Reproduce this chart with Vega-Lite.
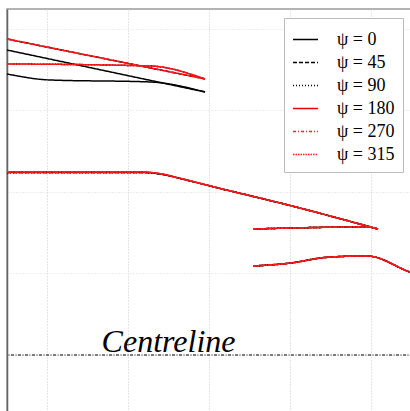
{
  "$schema": "https://vega.github.io/schema/vega-lite/v6.json",
  "autosize": {"type": "none"},
  "padding": {"left": 7, "top": 9, "right": 0, "bottom": 0},
  "width": 420,
  "height": 420,
  "background": "white",
  "config": {
    "view": {"stroke": "#999", "strokeWidth": 1.5},
    "legend": {
      "orient": "none", "legendX": 277, "legendY": 9,
      "fillColor": "white", "strokeColor": "#bbb", "padding": 8,
      "symbolType": "stroke", "symbolSize": 625, "symbolStrokeWidth": 1.5,
      "labelFont": "Liberation Serif", "labelFontSize": 18, "labelColor": "black",
      "labelOffset": 18, "rowPadding": 0
    }
  },
  "datasets": {
    "curves": [
      {"psi": "ψ = 0", "seg": "C", "x": 0.506, "y": 3.742},
      {"psi": "ψ = 0", "seg": "C", "x": 2.951, "y": 3.227},
      {"psi": "ψ = 0", "seg": "D", "x": 0.506, "y": 3.448},
      {"psi": "ψ = 0", "seg": "D", "x": 1.037, "y": 3.374},
      {"psi": "ψ = 0", "seg": "D", "x": 2.272, "y": 3.350},
      {"psi": "ψ = 0", "seg": "D", "x": 2.951, "y": 3.227},
      {"psi": "ψ = 0", "seg": "M", "x": 0.506, "y": 2.239},
      {"psi": "ψ = 0", "seg": "M", "x": 2.185, "y": 2.239},
      {"psi": "ψ = 0", "seg": "M", "x": 2.395, "y": 2.221},
      {"psi": "ψ = 0", "seg": "M", "x": 2.642, "y": 2.166},
      {"psi": "ψ = 0", "seg": "M", "x": 3.012, "y": 2.074},
      {"psi": "ψ = 0", "seg": "M", "x": 4.0, "y": 1.834},
      {"psi": "ψ = 0", "seg": "M", "x": 5.086, "y": 1.546},
      {"psi": "ψ = 0", "seg": "R1", "x": 3.543, "y": 1.546},
      {"psi": "ψ = 0", "seg": "R1", "x": 4.951, "y": 1.571},
      {"psi": "ψ = 0", "seg": "R1", "x": 5.086, "y": 1.546},
      {"psi": "ψ = 0", "seg": "R2", "x": 3.543, "y": 1.092},
      {"psi": "ψ = 0", "seg": "R2", "x": 3.963, "y": 1.123},
      {"psi": "ψ = 0", "seg": "R2", "x": 4.494, "y": 1.202},
      {"psi": "ψ = 0", "seg": "R2", "x": 4.951, "y": 1.215},
      {"psi": "ψ = 0", "seg": "R2", "x": 5.481, "y": 1.018},
      {"psi": "ψ = 0", "seg": "R2", "x": 5.667, "y": 0.957},

      {"psi": "ψ = 45", "seg": "A", "x": 0.506, "y": 3.877},
      {"psi": "ψ = 45", "seg": "A", "x": 2.951, "y": 3.387},
      {"psi": "ψ = 45", "seg": "M", "x": 0.506, "y": 2.239},
      {"psi": "ψ = 45", "seg": "M", "x": 2.185, "y": 2.239},
      {"psi": "ψ = 45", "seg": "M", "x": 2.395, "y": 2.221},
      {"psi": "ψ = 45", "seg": "M", "x": 2.642, "y": 2.166},
      {"psi": "ψ = 45", "seg": "M", "x": 3.012, "y": 2.074},
      {"psi": "ψ = 45", "seg": "M", "x": 4.0, "y": 1.834},
      {"psi": "ψ = 45", "seg": "M", "x": 5.086, "y": 1.546},
      {"psi": "ψ = 45", "seg": "R1", "x": 3.543, "y": 1.546},
      {"psi": "ψ = 45", "seg": "R1", "x": 4.951, "y": 1.571},
      {"psi": "ψ = 45", "seg": "R1", "x": 5.086, "y": 1.546},
      {"psi": "ψ = 45", "seg": "R2", "x": 3.543, "y": 1.092},
      {"psi": "ψ = 45", "seg": "R2", "x": 3.963, "y": 1.123},
      {"psi": "ψ = 45", "seg": "R2", "x": 4.494, "y": 1.202},
      {"psi": "ψ = 45", "seg": "R2", "x": 4.951, "y": 1.215},
      {"psi": "ψ = 45", "seg": "R2", "x": 5.481, "y": 1.018},
      {"psi": "ψ = 45", "seg": "R2", "x": 5.667, "y": 0.957},

      {"psi": "ψ = 90", "seg": "B", "x": 0.506, "y": 3.571},
      {"psi": "ψ = 90", "seg": "B", "x": 2.272, "y": 3.546},
      {"psi": "ψ = 90", "seg": "B", "x": 2.951, "y": 3.387},
      {"psi": "ψ = 90", "seg": "M", "x": 0.506, "y": 2.239},
      {"psi": "ψ = 90", "seg": "M", "x": 2.185, "y": 2.239},
      {"psi": "ψ = 90", "seg": "M", "x": 2.395, "y": 2.221},
      {"psi": "ψ = 90", "seg": "M", "x": 2.642, "y": 2.166},
      {"psi": "ψ = 90", "seg": "M", "x": 3.012, "y": 2.074},
      {"psi": "ψ = 90", "seg": "M", "x": 4.0, "y": 1.834},
      {"psi": "ψ = 90", "seg": "M", "x": 5.086, "y": 1.546},
      {"psi": "ψ = 90", "seg": "R1", "x": 3.543, "y": 1.546},
      {"psi": "ψ = 90", "seg": "R1", "x": 4.951, "y": 1.571},
      {"psi": "ψ = 90", "seg": "R1", "x": 5.086, "y": 1.546},
      {"psi": "ψ = 90", "seg": "R2", "x": 3.543, "y": 1.092},
      {"psi": "ψ = 90", "seg": "R2", "x": 3.963, "y": 1.123},
      {"psi": "ψ = 90", "seg": "R2", "x": 4.494, "y": 1.202},
      {"psi": "ψ = 90", "seg": "R2", "x": 4.951, "y": 1.215},
      {"psi": "ψ = 90", "seg": "R2", "x": 5.481, "y": 1.018},
      {"psi": "ψ = 90", "seg": "R2", "x": 5.667, "y": 0.957},

      {"psi": "ψ = 180", "seg": "A", "x": 0.506, "y": 3.877},
      {"psi": "ψ = 180", "seg": "A", "x": 2.951, "y": 3.387},
      {"psi": "ψ = 180", "seg": "B", "x": 0.506, "y": 3.571},
      {"psi": "ψ = 180", "seg": "B", "x": 2.272, "y": 3.546},
      {"psi": "ψ = 180", "seg": "B", "x": 2.951, "y": 3.387},
      {"psi": "ψ = 180", "seg": "M", "x": 0.506, "y": 2.245},
      {"psi": "ψ = 180", "seg": "M", "x": 2.185, "y": 2.245},
      {"psi": "ψ = 180", "seg": "M", "x": 2.395, "y": 2.225},
      {"psi": "ψ = 180", "seg": "M", "x": 2.642, "y": 2.168},
      {"psi": "ψ = 180", "seg": "M", "x": 3.012, "y": 2.074},
      {"psi": "ψ = 180", "seg": "M", "x": 4.0, "y": 1.834},
      {"psi": "ψ = 180", "seg": "M", "x": 5.086, "y": 1.546},
      {"psi": "ψ = 180", "seg": "R1", "x": 3.543, "y": 1.546},
      {"psi": "ψ = 180", "seg": "R1", "x": 4.951, "y": 1.571},
      {"psi": "ψ = 180", "seg": "R1", "x": 5.086, "y": 1.546},
      {"psi": "ψ = 180", "seg": "R2", "x": 3.543, "y": 1.092},
      {"psi": "ψ = 180", "seg": "R2", "x": 3.963, "y": 1.123},
      {"psi": "ψ = 180", "seg": "R2", "x": 4.494, "y": 1.202},
      {"psi": "ψ = 180", "seg": "R2", "x": 4.951, "y": 1.215},
      {"psi": "ψ = 180", "seg": "R2", "x": 5.481, "y": 1.018},
      {"psi": "ψ = 180", "seg": "R2", "x": 5.667, "y": 0.957},

      {"psi": "ψ = 270", "seg": "A", "x": 0.506, "y": 3.877},
      {"psi": "ψ = 270", "seg": "A", "x": 2.951, "y": 3.387},
      {"psi": "ψ = 270", "seg": "M", "x": 0.506, "y": 2.245},
      {"psi": "ψ = 270", "seg": "M", "x": 2.185, "y": 2.245},
      {"psi": "ψ = 270", "seg": "M", "x": 2.395, "y": 2.225},
      {"psi": "ψ = 270", "seg": "M", "x": 2.642, "y": 2.168},
      {"psi": "ψ = 270", "seg": "M", "x": 3.012, "y": 2.074},
      {"psi": "ψ = 270", "seg": "M", "x": 4.0, "y": 1.834},
      {"psi": "ψ = 270", "seg": "M", "x": 5.086, "y": 1.546},
      {"psi": "ψ = 270", "seg": "R1", "x": 3.543, "y": 1.546},
      {"psi": "ψ = 270", "seg": "R1", "x": 4.951, "y": 1.571},
      {"psi": "ψ = 270", "seg": "R1", "x": 5.086, "y": 1.546},
      {"psi": "ψ = 270", "seg": "R2", "x": 3.543, "y": 1.092},
      {"psi": "ψ = 270", "seg": "R2", "x": 3.963, "y": 1.123},
      {"psi": "ψ = 270", "seg": "R2", "x": 4.494, "y": 1.202},
      {"psi": "ψ = 270", "seg": "R2", "x": 4.951, "y": 1.215},
      {"psi": "ψ = 270", "seg": "R2", "x": 5.481, "y": 1.018},
      {"psi": "ψ = 270", "seg": "R2", "x": 5.667, "y": 0.957},

      {"psi": "ψ = 315", "seg": "B", "x": 0.506, "y": 3.571},
      {"psi": "ψ = 315", "seg": "B", "x": 2.272, "y": 3.546},
      {"psi": "ψ = 315", "seg": "B", "x": 2.951, "y": 3.387},
      {"psi": "ψ = 315", "seg": "M", "x": 0.506, "y": 2.245},
      {"psi": "ψ = 315", "seg": "M", "x": 2.185, "y": 2.245},
      {"psi": "ψ = 315", "seg": "M", "x": 2.395, "y": 2.225},
      {"psi": "ψ = 315", "seg": "M", "x": 2.642, "y": 2.168},
      {"psi": "ψ = 315", "seg": "M", "x": 3.012, "y": 2.074},
      {"psi": "ψ = 315", "seg": "M", "x": 4.0, "y": 1.834},
      {"psi": "ψ = 315", "seg": "M", "x": 5.086, "y": 1.546},
      {"psi": "ψ = 315", "seg": "R1", "x": 3.543, "y": 1.546},
      {"psi": "ψ = 315", "seg": "R1", "x": 4.951, "y": 1.571},
      {"psi": "ψ = 315", "seg": "R1", "x": 5.086, "y": 1.546},
      {"psi": "ψ = 315", "seg": "R2", "x": 3.543, "y": 1.092},
      {"psi": "ψ = 315", "seg": "R2", "x": 3.963, "y": 1.123},
      {"psi": "ψ = 315", "seg": "R2", "x": 4.494, "y": 1.202},
      {"psi": "ψ = 315", "seg": "R2", "x": 4.951, "y": 1.215},
      {"psi": "ψ = 315", "seg": "R2", "x": 5.481, "y": 1.018},
      {"psi": "ψ = 315", "seg": "R2", "x": 5.667, "y": 0.957}
    ],
    "centre": [{"y": 0, "x": 2.5, "label": "Centreline"}]
  },
  "encoding": {
    "x": {"type": "quantitative", "scale": {"domain": [0.506, 5.691], "nice": false, "zero": false},
      "axis": {"title": null, "labels": false, "ticks": false, "domain": false, "grid": true, "values": [1, 2, 3, 4, 5],
        "gridColor": "#c8c8c8", "gridDash": [1, 2], "gridWidth": 1}},
    "y": {"type": "quantitative", "scale": {"domain": [-0.908, 4.245], "nice": false, "zero": false},
      "axis": {"title": null, "labels": false, "ticks": false, "domain": true, "domainColor": "#666", "domainWidth": 1.5,
        "grid": true, "values": [0, 1, 2, 3, 4], "gridColor": "#dcdcdc", "gridDash": [1, 2], "gridWidth": 1}}
  },
  "layer": [
    {
      "data": {"name": "centre"},
      "mark": {"type": "rule", "stroke": "black", "strokeWidth": 1.1, "strokeDash": [3, 1.5, 1, 1.5]},
      "encoding": {"y": {"field": "y"}}
    },
    {
      "data": {"name": "centre"},
      "mark": {"type": "text", "font": "Liberation Serif", "fontStyle": "italic", "fontSize": 32, "align": "center", "baseline": "alphabetic", "dy": -3, "color": "black"},
      "encoding": {"x": {"field": "x"}, "y": {"field": "y"}, "text": {"field": "label"}}
    },
    {
      "data": {"name": "curves"},
      "mark": {"type": "line", "strokeWidth": 1.5, "interpolate": "monotone"},
      "encoding": {
        "x": {"field": "x"},
        "y": {"field": "y"},
        "detail": {"field": "seg"},
        "color": {"field": "psi", "type": "nominal", "title": null,
          "scale": {"domain": ["ψ = 0", "ψ = 45", "ψ = 90", "ψ = 180", "ψ = 270", "ψ = 315"],
            "range": ["black", "black", "black", "#e8000b", "#ff2020", "#ff2020"]}},
        "strokeDash": {"field": "psi", "type": "nominal", "title": null,
          "scale": {"domain": ["ψ = 0", "ψ = 45", "ψ = 90", "ψ = 180", "ψ = 270", "ψ = 315"],
            "range": [[1, 0], [4, 2], [1, 2], [1, 0], [3, 2, 1, 2], [1.5, 1]]}}
      }
    }
  ]
}
